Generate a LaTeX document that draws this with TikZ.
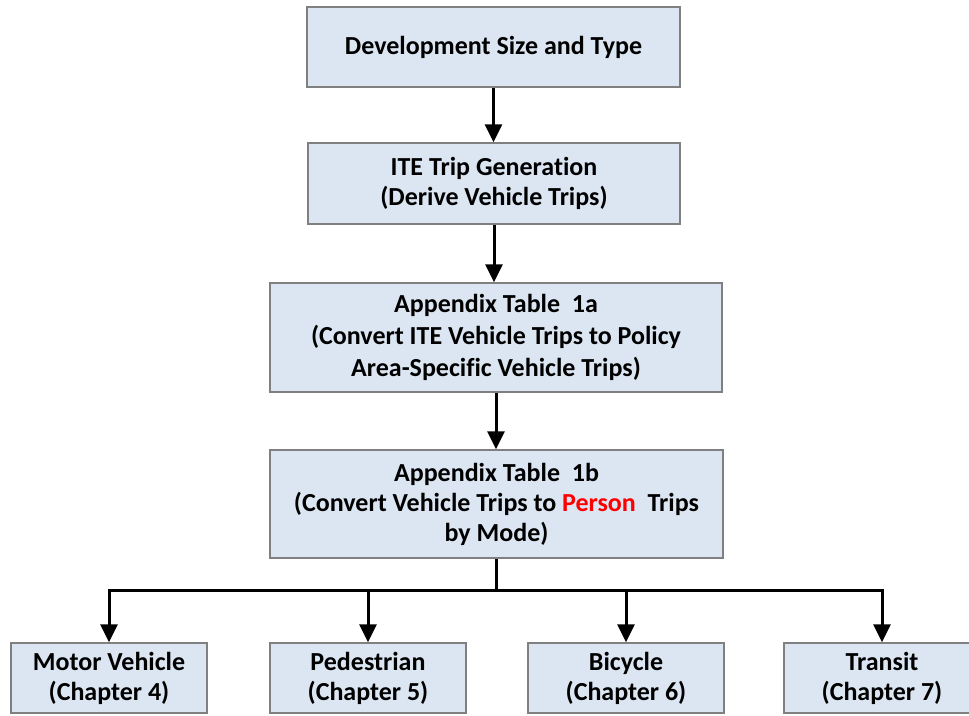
\documentclass[tikz,border=0pt]{standalone}
\usepackage{fontspec}
\setmainfont{Carlito}[Ligatures={NoCommon}]
\usetikzlibrary{arrows.meta}
\definecolor{boxfill}{RGB}{220,230,242}
\definecolor{boxdraw}{RGB}{128,128,128}
\definecolor{persred}{RGB}{255,0,0}
\tikzset{
  flowbox/.style={draw=boxdraw, line width=1.5pt, fill=boxfill, rectangle, align=center,
    inner sep=0pt, font=\fontsize{26}{30}\selectfont\bfseries},
  flowarrow/.style={line width=3pt, -{Triangle[width=17pt,length=18pt]}},
  flowline/.style={line width=3pt}
}
\begin{document}
\begin{tikzpicture}[x=1pt,y=-1pt]
\useasboundingbox (0,0) rectangle (969,715);
\node[flowbox, minimum width=373pt, minimum height=80pt] (dev) at (493.5,47) {Development Size and Type};
\node[flowbox, minimum width=372pt, minimum height=81pt] (ite) at (494,183.5) {ITE Trip Generation\\(Derive Vehicle Trips)};
\node[flowbox, minimum width=452pt, minimum height=109pt, font=\fontsize{26}{32}\selectfont\bfseries] (t1a) at (496,337.5) {Appendix Table\ \ 1a\\(Convert ITE Vehicle Trips to Policy\\Area-Specific Vehicle Trips)};
\node[flowbox, minimum width=453pt, minimum height=108pt] (t1b) at (496.5,504) {Appendix Table\ \ 1b\\(Convert Vehicle Trips to \textcolor{persred}{Person}\ \ Trips\\by Mode)};
\node[flowbox, minimum width=196pt, minimum height=70pt] (mv) at (109,678) {Motor Vehicle\\(Chapter 4)};
\node[flowbox, minimum width=196pt, minimum height=70pt] (ped) at (368,678) {Pedestrian\\(Chapter 5)};
\node[flowbox, minimum width=196pt, minimum height=70pt] (bic) at (626,678) {Bicycle\\(Chapter 6)};
\node[flowbox, minimum width=196pt, minimum height=70pt] (tra) at (882,678) {Transit\\(Chapter 7)};
\coordinate (jn) at (t1b.south |- 0,590);
\draw[flowarrow] (dev.south) -- (dev.south |- ite.north);
\draw[flowarrow] (ite.south) -- (ite.south |- t1a.north);
\draw[flowarrow] (t1a.south) -- (t1a.south |- t1b.north);
\draw[flowline] (t1b.south) -- (jn);
\draw[flowline, line cap=rect] (mv.north |- jn) -- (tra.north |- jn);
\draw[flowarrow] (mv.north |- jn) -- (mv.north);
\draw[flowarrow] (ped.north |- jn) -- (ped.north);
\draw[flowarrow] (bic.north |- jn) -- (bic.north);
\draw[flowarrow] (tra.north |- jn) -- (tra.north);
\end{tikzpicture}
\end{document}
